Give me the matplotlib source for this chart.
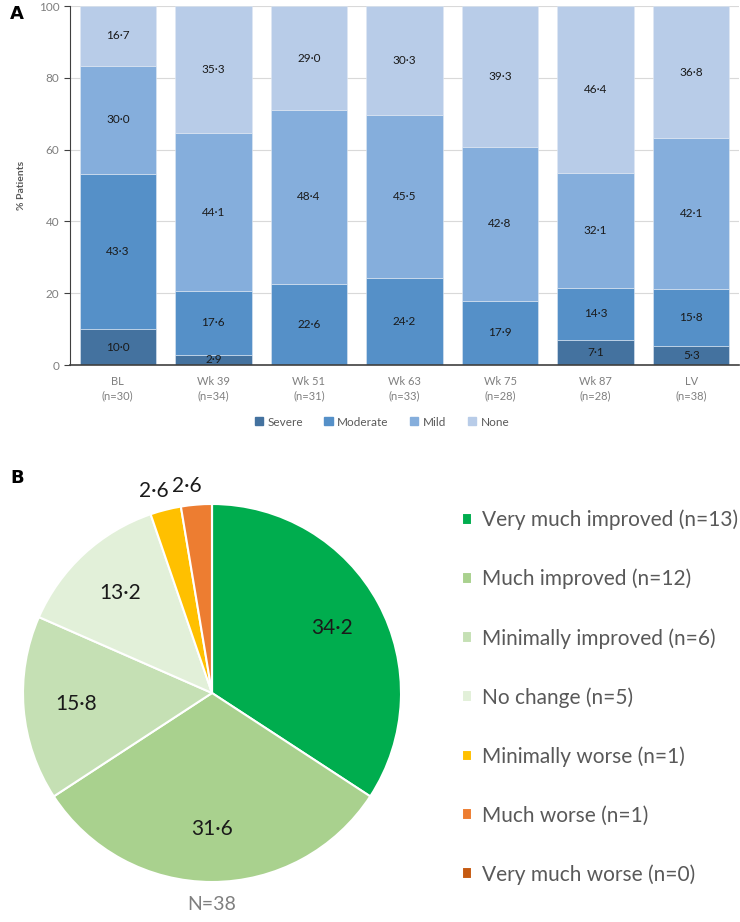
import numpy as np
import matplotlib
matplotlib.use("Agg")
import matplotlib.pyplot as plt
from matplotlib.patches import Patch

plt.rcParams['font.family'] = ['Lato', 'DejaVu Sans']

# Panel A data
visits = ['BL\n(n=30)', 'Wk 39\n(n=34)', 'Wk 51\n(n=31)', 'Wk 63\n(n=33)',
          'Wk 75\n(n=28)', 'Wk 87\n(n=28)', 'LV\n(n=38)']
severe = [10.0, 2.9, 0.0, 0.0, 0.0, 7.1, 5.3]
moderate = [43.3, 17.6, 22.6, 24.2, 17.9, 14.3, 15.8]
mild = [30.0, 44.1, 48.4, 45.5, 42.8, 32.1, 42.1]
none_ = [16.7, 35.3, 29.0, 30.3, 39.3, 46.4, 36.8]
sev_names = ['Severe', 'Moderate', 'Mild', 'None']
sev_colors = ['#44729F', '#5590C8', '#85AEDC', '#B8CCE8']

# Panel B data
cgi_names = ['Very much improved (n=13)', 'Much improved (n=12)', 'Minimally improved (n=6)',
             'No change (n=5)', 'Minimally worse (n=1)', 'Much worse (n=1)',
             'Very much worse (n=0)']
cgi_counts = [13, 12, 6, 5, 1, 1, 0]
cgi_colors = ['#00AD4E', '#A9D18E', '#C5E0B4', '#E2F0D9', '#FFC000', '#ED7D31', '#C55A11']

fmt = lambda v: f"{v:.1f}".replace('.', '\u00b7')

fig = plt.figure(figsize=(7.4, 9.22), dpi=100)

# ---------- Panel A ----------
ax = fig.add_axes([70/740, 1-365/922, 669/740, 359/922])
x = np.arange(len(visits))
bottom = np.zeros(len(visits))
for name, vals, col in zip(sev_names, [severe, moderate, mild, none_], sev_colors):
    vals = np.array(vals)
    bars = ax.bar(x, vals, 0.8, bottom=bottom, color=col, edgecolor='#dfe8f3',
                  linewidth=0.4, label=name, zorder=2)
    for b, v in zip(bars, vals):
        if v > 0:
            ax.text(b.get_x() + b.get_width()/2, b.get_y() + v/2, fmt(v),
                    ha='center', va='center', fontsize=8.5, color='#1a1a1a', zorder=3)
    bottom += vals

ax.set_xlim(-0.5, 6.5)
ax.set_ylim(0, 100)
ax.set_yticks([0, 20, 40, 60, 80, 100])
ax.set_xticks(x)
ax.set_xticklabels(visits, fontsize=8, color='#7f7f7f', linespacing=1.4)
ax.tick_params(axis='y', labelsize=8.5, labelcolor='#7f7f7f', length=4, color='#404040')
ax.tick_params(axis='x', length=0, pad=8)
ax.grid(axis='y', color='#d9d9d9', linewidth=0.8, zorder=0)
for s in ['top', 'right']:
    ax.spines[s].set_visible(False)
ax.spines['left'].set_color('#404040')
ax.spines['bottom'].set_color('#404040')
ax.spines['bottom'].set_linewidth(1.2)
ax.set_ylabel('% Patients', fontsize=7.5, color='#595959', fontweight='bold', labelpad=9)
fig.text(10/740, 1-14/922, 'A', fontsize=13, fontweight='bold', va='center', ha='left',
         family='DejaVu Sans')

handles = [Patch(color=c) for c in sev_colors]
fig.legend(handles, sev_names, loc='center', bbox_to_anchor=(382/740, 1-422/922),
           ncol=4, frameon=False, fontsize=8.5, labelcolor='#595959',
           handlelength=0.7, handleheight=0.7, handletextpad=0.4, columnspacing=1.8)

# ---------- Panel B ----------
axp = fig.add_axes([23/740, 1-882/922, 378/740, 378/922])
wedges, _ = axp.pie(cgi_counts, colors=cgi_colors, startangle=90, counterclock=False,
                    radius=1, wedgeprops=dict(edgecolor='white', linewidth=1.5))
axp.set_xlim(-1, 1)
axp.set_ylim(-1, 1)
axp.set_aspect('equal')
axp.axis('off')

total = sum(cgi_counts)
for w, n in zip(wedges, cgi_counts):
    if n == 0:
        continue
    ang = np.deg2rad((w.theta1 + w.theta2) / 2)
    pct = 100 * n / total
    d = 0.72 if pct > 5 else 1.1
    xt, yt = d * np.cos(ang), d * np.sin(ang)
    if pct < 5:
        xt = xt - 0.04 if xt < -0.05 else xt - 0.02
    axp.text(xt, yt, fmt(pct), ha='center', va='center', fontsize=15, color='#1a1a1a')

axp.text(0, -1.12, 'N=38', ha='center', va='center', fontsize=14, color='#7f7f7f')
fig.text(10/740, 1-478/922, 'B', fontsize=13, fontweight='bold', va='center', ha='left',
         family='DejaVu Sans')

fig.legend(wedges, cgi_names, loc='upper left', bbox_to_anchor=(443/740, 1-491/922),
           frameon=False, fontsize=15, labelcolor='#595959',
           handlelength=0.5, handleheight=0.5, handletextpad=0.45, labelspacing=1.85)

fig.savefig('out.png', dpi=100)
